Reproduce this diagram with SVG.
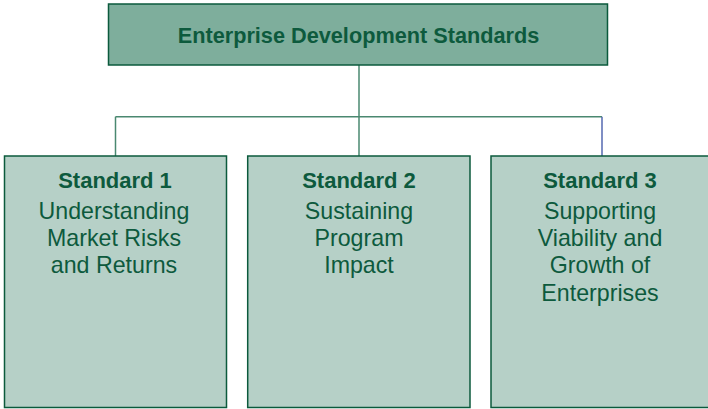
<svg xmlns="http://www.w3.org/2000/svg" width="708" height="409" viewBox="0 0 708 409">
<style>
.top{fill:#7eae9c;stroke:#0b5a3c;stroke-width:1.5}
.box{fill:#b6d0c7;stroke:#0b5a3c;stroke-width:1.5}
.t{font-family:"Liberation Sans",Arial,sans-serif;fill:#0d5a3d;text-anchor:middle}
.b{font-weight:bold;font-size:22px}
.r{font-size:23.2px}
.c{fill:none;stroke:#4a8870;stroke-width:1.5}
</style>
<rect width="708" height="409" fill="#fff"/>
<g id="connectors">
<line class="c" x1="359" y1="65" x2="359" y2="156"/>
<line class="c" x1="115.5" y1="116.7" x2="602" y2="116.7"/>
<line class="c" x1="115.5" y1="116.7" x2="115.5" y2="156"/>
<line x1="602" y1="116.7" x2="602" y2="156" stroke="#5568b0" stroke-width="1.5"/>
</g>
<g id="root">
<rect class="top" x="108.5" y="4" width="499" height="61"/>
<text class="t b" x="358.5" y="43" style="font-size:21.7px">Enterprise Development Standards</text>
</g>
<g id="standard1">
<rect class="box" x="4.5" y="156" width="222" height="251.5"/>
<text class="t b" x="115" y="188">Standard 1</text>
<text class="t r" x="114" y="219">Understanding</text>
<text class="t r" x="114" y="246">Market Risks</text>
<text class="t r" x="114" y="273">and Returns</text>
</g>
<g id="standard2">
<rect class="box" x="247.7" y="156" width="222.3" height="251.5"/>
<text class="t b" x="359" y="188">Standard 2</text>
<text class="t r" x="359" y="219">Sustaining</text>
<text class="t r" x="359" y="246">Program</text>
<text class="t r" x="359" y="273">Impact</text>
</g>
<g id="standard3">
<rect class="box" x="491" y="156" width="222" height="251.5"/>
<text class="t b" x="600" y="188">Standard 3</text>
<text class="t r" x="600" y="219">Supporting</text>
<text class="t r" x="600" y="246">Viability and</text>
<text class="t r" x="600" y="273">Growth of</text>
<text class="t r" x="600" y="301">Enterprises</text>
</g>
</svg>
